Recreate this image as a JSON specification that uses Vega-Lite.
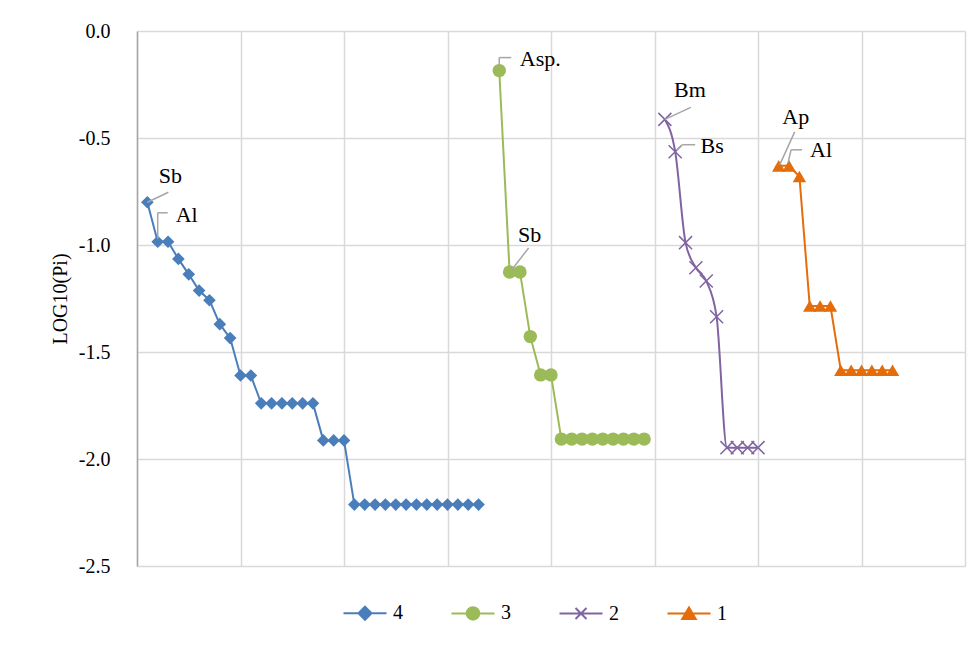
{
  "$schema": "https://vega.github.io/schema/vega-lite/v6.json",
  "width": 828,
  "height": 535,
  "autosize": {"type": "none"},
  "padding": {"left": 137, "top": 31, "right": 9, "bottom": 83},
  "background": "white",
  "config": {"view": {"stroke": null}, "font": "Liberation Serif"},
  "data": {"values": [
    {"s":"4","x":1,"y":-0.80,"lbl":"Sb"},
    {"s":"4","x":2,"y":-0.985,"lbl":"Al"},
    {"s":"4","x":3,"y":-0.985},
    {"s":"4","x":4,"y":-1.065},
    {"s":"4","x":5,"y":-1.137},
    {"s":"4","x":6,"y":-1.213},
    {"s":"4","x":7,"y":-1.258},
    {"s":"4","x":8,"y":-1.37},
    {"s":"4","x":9,"y":-1.435},
    {"s":"4","x":10,"y":-1.61},
    {"s":"4","x":11,"y":-1.61},
    {"s":"4","x":12,"y":-1.74},
    {"s":"4","x":13,"y":-1.74},
    {"s":"4","x":14,"y":-1.74},
    {"s":"4","x":15,"y":-1.74},
    {"s":"4","x":16,"y":-1.74},
    {"s":"4","x":17,"y":-1.74},
    {"s":"4","x":18,"y":-1.913},
    {"s":"4","x":19,"y":-1.913},
    {"s":"4","x":20,"y":-1.913},
    {"s":"4","x":21,"y":-2.213},
    {"s":"4","x":22,"y":-2.213},
    {"s":"4","x":23,"y":-2.213},
    {"s":"4","x":24,"y":-2.213},
    {"s":"4","x":25,"y":-2.213},
    {"s":"4","x":26,"y":-2.213},
    {"s":"4","x":27,"y":-2.213},
    {"s":"4","x":28,"y":-2.213},
    {"s":"4","x":29,"y":-2.213},
    {"s":"4","x":30,"y":-2.213},
    {"s":"4","x":31,"y":-2.213},
    {"s":"4","x":32,"y":-2.213},
    {"s":"4","x":33,"y":-2.213},
    {"s":"3","x":35,"y":-0.185,"lbl":"Asp."},
    {"s":"3","x":36,"y":-1.126,"lbl":"Sb"},
    {"s":"3","x":37,"y":-1.126},
    {"s":"3","x":38,"y":-1.428},
    {"s":"3","x":39,"y":-1.607},
    {"s":"3","x":40,"y":-1.607},
    {"s":"3","x":41,"y":-1.907},
    {"s":"3","x":42,"y":-1.907},
    {"s":"3","x":43,"y":-1.907},
    {"s":"3","x":44,"y":-1.907},
    {"s":"3","x":45,"y":-1.907},
    {"s":"3","x":46,"y":-1.907},
    {"s":"3","x":47,"y":-1.907},
    {"s":"3","x":48,"y":-1.907},
    {"s":"3","x":49,"y":-1.907},
    {"s":"2","x":51,"y":-0.413,"lbl":"Bm"},
    {"s":"2","x":52,"y":-0.564,"lbl":"Bs"},
    {"s":"2","x":53,"y":-0.989},
    {"s":"2","x":54,"y":-1.106},
    {"s":"2","x":55,"y":-1.168},
    {"s":"2","x":56,"y":-1.335},
    {"s":"2","x":57,"y":-1.947},
    {"s":"2","x":58,"y":-1.947},
    {"s":"2","x":59,"y":-1.947},
    {"s":"2","x":60,"y":-1.947},
    {"s":"1","x":62,"y":-0.63,"lbl":"Ap"},
    {"s":"1","x":63,"y":-0.63,"lbl":"Al"},
    {"s":"1","x":64,"y":-0.68},
    {"s":"1","x":65,"y":-1.285},
    {"s":"1","x":66,"y":-1.285},
    {"s":"1","x":67,"y":-1.285},
    {"s":"1","x":68,"y":-1.585},
    {"s":"1","x":69,"y":-1.585},
    {"s":"1","x":70,"y":-1.585},
    {"s":"1","x":71,"y":-1.585},
    {"s":"1","x":72,"y":-1.585},
    {"s":"1","x":73,"y":-1.585}
  ]},
  "encoding": {
    "x": {"field": "x", "type": "quantitative",
      "scale": {"domain": [0, 80], "nice": false, "zero": false},
      "axis": {"values": [0,10,20,30,40,50,60,70,80], "labels": false, "ticks": false, "domain": false, "grid": true, "gridColor": "#d9d9d9", "gridWidth": 1.5, "title": null}},
    "y": {"field": "y", "type": "quantitative",
      "scale": {"domain": [-2.5, 0], "nice": false, "zero": false},
      "axis": {"values": [-2.5,-2,-1.5,-1,-0.5,0], "labelExpr": "replace(format(datum.value, '.1f'), '\u2212', '-')",
        "ticks": false, "domain": true, "domainColor": "#a6a6a6", "domainWidth": 1.5,
        "grid": true, "gridColor": "#d9d9d9", "gridWidth": 1.5,
        "labelFont": "Times New Roman, Liberation Serif, serif", "labelFontSize": 20, "labelColor": "black", "labelPadding": 27,
        "title": "LOG10(Pi)", "titleFont": "Times New Roman, Liberation Serif, serif", "titleFontSize": 20, "titleFontWeight": "normal", "titleColor": "black", "titlePadding": 8}}
  },
  "layer": [
    {"transform": [{"filter": "datum.s !== '2'"}],
     "mark": {"type": "line", "strokeWidth": 2},
     "encoding": {"color": {"field": "s", "type": "nominal",
        "scale": {"domain": ["4","3","2","1"], "range": ["#4a7ebb","#9bbb59","#8064a2","#e46c0a"]},
        "legend": {"orient": "none", "legendX": 218, "legendY": 572, "direction": "horizontal", "title": null,
          "labelFont": "Times New Roman, Liberation Serif, serif", "labelFontSize": 20, "labelColor": "black",
          "symbolSize": 100, "labelOffset": 18, "columnPadding": 44,
          "encode": {"symbols": {"update": {
            "shape": {"signal": "datum.value === '4' ? 'M-4.3,0L4.3,0M0,-1.3L1.3,0L0,1.3L-1.3,0Z' : datum.value === '3' ? 'M-4.3,0L4.3,0M-1.25,0A1.25,1.25,0,1,0,1.25,0A1.25,1.25,0,1,0,-1.25,0Z' : datum.value === '2' ? 'M-4.3,0L4.3,0M-1.1,-1.1L1.1,1.1M-1.1,1.1L1.1,-1.1' : 'M-4.3,0L4.3,0M0,-1.2L1.35,1.1L-1.35,1.1Z'"},
            "stroke": {"signal": "scale('color', datum.value)"},
            "fill": {"signal": "scale('color', datum.value)"},
            "strokeWidth": {"value": 2},
            "opacity": {"value": 1}
          }}}}},
       "detail": {"field": "s"}}},
    {"transform": [{"filter": "datum.s === '2'"}],
     "mark": {"type": "line", "strokeWidth": 2, "interpolate": "monotone"},
     "encoding": {"color": {"field": "s", "type": "nominal"}}},
    {"transform": [{"filter": "datum.s === '4'"}],
     "mark": {"type": "point", "shape": "diamond", "filled": true, "size": 160, "opacity": 1},
     "encoding": {"color": {"field": "s", "type": "nominal"}}},
    {"transform": [{"filter": "datum.s === '3'"}],
     "mark": {"type": "point", "shape": "circle", "filled": true, "size": 180, "opacity": 1},
     "encoding": {"color": {"field": "s", "type": "nominal"}}},
    {"transform": [{"filter": "datum.s === '2'"}],
     "mark": {"type": "point", "shape": "M-1,-1L1,1M-1,1L1,-1", "filled": false, "size": 170, "opacity": 1, "strokeWidth": 1.5},
     "encoding": {"color": {"field": "s", "type": "nominal"}}},
    {"transform": [{"filter": "datum.s === '1'"}],
     "mark": {"type": "point", "shape": "triangle-up", "filled": true, "size": 180, "opacity": 1},
     "encoding": {"color": {"field": "s", "type": "nominal"}}},

    {"transform": [{"filter": "datum.s === '4' && datum.x === 1"}],
     "mark": {"type": "rule", "color": "#a6a6a6", "strokeWidth": 1.5, "x2Offset": 21, "y2Offset": -10},
     "encoding": {"x2": {"field": "x"}, "y2": {"field": "y"}}},
    {"transform": [{"filter": "datum.s === '4' && datum.x === 2"}],
     "mark": {"type": "rule", "color": "#a6a6a6", "strokeWidth": 1.5, "yOffset": -3, "y2Offset": -29},
     "encoding": {"x2": {"field": "x"}, "y2": {"field": "y"}}},
    {"transform": [{"filter": "datum.s === '4' && datum.x === 2"}],
     "mark": {"type": "rule", "color": "#a6a6a6", "strokeWidth": 1.5, "yOffset": -29, "y2Offset": -29, "x2Offset": 10},
     "encoding": {"x2": {"field": "x"}, "y2": {"field": "y"}}},
    {"transform": [{"filter": "datum.s === '3' && datum.x === 35"}],
     "mark": {"type": "rule", "color": "#a6a6a6", "strokeWidth": 1.5, "yOffset": -3, "y2Offset": -13},
     "encoding": {"x2": {"field": "x"}, "y2": {"field": "y"}}},
    {"transform": [{"filter": "datum.s === '3' && datum.x === 35"}],
     "mark": {"type": "rule", "color": "#a6a6a6", "strokeWidth": 1.5, "yOffset": -13, "y2Offset": -13, "x2Offset": 12},
     "encoding": {"x2": {"field": "x"}, "y2": {"field": "y"}}},
    {"transform": [{"filter": "datum.s === '3' && datum.x === 36"}],
     "mark": {"type": "rule", "color": "#a6a6a6", "strokeWidth": 1.5, "xOffset": 2, "yOffset": -2, "x2Offset": 19, "y2Offset": -24},
     "encoding": {"x2": {"field": "x"}, "y2": {"field": "y"}}},
    {"transform": [{"filter": "datum.s === '2' && datum.x === 51"}],
     "mark": {"type": "rule", "color": "#a6a6a6", "strokeWidth": 1.5, "x2Offset": 26, "y2Offset": -12},
     "encoding": {"x2": {"field": "x"}, "y2": {"field": "y"}}},
    {"transform": [{"filter": "datum.s === '2' && datum.x === 52"}],
     "mark": {"type": "rule", "color": "#a6a6a6", "strokeWidth": 1.5, "xOffset": 2, "yOffset": -2, "x2Offset": 7, "y2Offset": -7},
     "encoding": {"x2": {"field": "x"}, "y2": {"field": "y"}}},
    {"transform": [{"filter": "datum.s === '2' && datum.x === 52"}],
     "mark": {"type": "rule", "color": "#a6a6a6", "strokeWidth": 1.5, "xOffset": 7, "yOffset": -7, "x2Offset": 20, "y2Offset": -7},
     "encoding": {"x2": {"field": "x"}, "y2": {"field": "y"}}},
    {"transform": [{"filter": "datum.s === '1' && datum.x === 62"}],
     "mark": {"type": "rule", "color": "#a6a6a6", "strokeWidth": 1.5, "xOffset": 1, "yOffset": -1, "x2Offset": 16, "y2Offset": -34},
     "encoding": {"x2": {"field": "x"}, "y2": {"field": "y"}}},
    {"transform": [{"filter": "datum.s === '1' && datum.x === 63"}],
     "mark": {"type": "rule", "color": "#a6a6a6", "strokeWidth": 1.5, "xOffset": -1, "yOffset": -3, "x2Offset": 2, "y2Offset": -16},
     "encoding": {"x2": {"field": "x"}, "y2": {"field": "y"}}},
    {"transform": [{"filter": "datum.s === '1' && datum.x === 63"}],
     "mark": {"type": "rule", "color": "#a6a6a6", "strokeWidth": 1.5, "xOffset": 2, "yOffset": -16, "x2Offset": 13, "y2Offset": -16},
     "encoding": {"x2": {"field": "x"}, "y2": {"field": "y"}}},

    {"transform": [{"filter": "datum.s === '4' && datum.x === 1"}],
     "mark": {"type": "text", "dx": 23, "dy": -26, "fontSize": 22, "font": "Times New Roman, Liberation Serif, serif", "color": "black"},
     "encoding": {"text": {"field": "lbl"}}},
    {"transform": [{"filter": "datum.s === '4' && datum.x === 2"}],
     "mark": {"type": "text", "dx": 29, "dy": -27, "fontSize": 22, "font": "Times New Roman, Liberation Serif, serif", "color": "black"},
     "encoding": {"text": {"field": "lbl"}}},
    {"transform": [{"filter": "datum.s === '3' && datum.x === 35"}],
     "mark": {"type": "text", "dx": 41, "dy": -12, "fontSize": 22, "font": "Times New Roman, Liberation Serif, serif", "color": "black"},
     "encoding": {"text": {"field": "lbl"}}},
    {"transform": [{"filter": "datum.s === '3' && datum.x === 36"}],
     "mark": {"type": "text", "dx": 20, "dy": -37, "fontSize": 22, "font": "Times New Roman, Liberation Serif, serif", "color": "black"},
     "encoding": {"text": {"field": "lbl"}}},
    {"transform": [{"filter": "datum.s === '2' && datum.x === 51"}],
     "mark": {"type": "text", "dx": 25, "dy": -29, "fontSize": 22, "font": "Times New Roman, Liberation Serif, serif", "color": "black"},
     "encoding": {"text": {"field": "lbl"}}},
    {"transform": [{"filter": "datum.s === '2' && datum.x === 52"}],
     "mark": {"type": "text", "dx": 37, "dy": -6, "fontSize": 22, "font": "Times New Roman, Liberation Serif, serif", "color": "black"},
     "encoding": {"text": {"field": "lbl"}}},
    {"transform": [{"filter": "datum.s === '1' && datum.x === 62"}],
     "mark": {"type": "text", "dx": 17, "dy": -49, "fontSize": 22, "font": "Times New Roman, Liberation Serif, serif", "color": "black"},
     "encoding": {"text": {"field": "lbl"}}},
    {"transform": [{"filter": "datum.s === '1' && datum.x === 63"}],
     "mark": {"type": "text", "dx": 32, "dy": -16, "fontSize": 22, "font": "Times New Roman, Liberation Serif, serif", "color": "black"},
     "encoding": {"text": {"field": "lbl"}}}
  ]
}
